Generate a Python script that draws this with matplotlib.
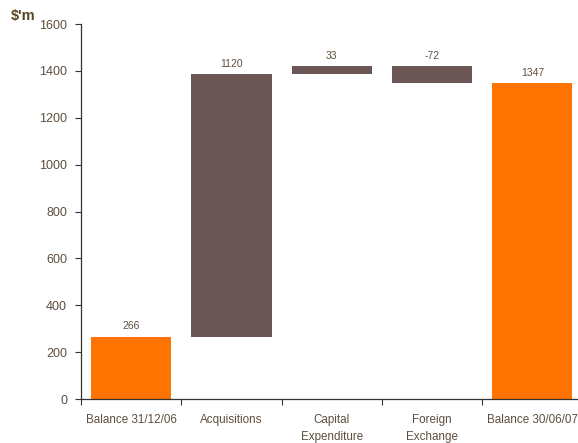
import matplotlib
matplotlib.use("Agg")
import matplotlib.pyplot as plt
import numpy as np

plt.rcParams['font.family'] = ['Liberation Sans', 'DejaVu Sans']

categories = ["Balance 31/12/06", "Acquisitions", "Capital\nExpenditure",
              "Foreign\nExchange", "Balance 30/06/07"]
changes = [266, 1120, 33, -72, 1347]
is_total = [True, False, False, False, True]
value_labels = ["266", "1120", "33", "-72", "1347"]
yticks = [0, 200, 400, 600, 800, 1000, 1200, 1400, 1600]

orange = "#FF7300"
brown = "#6B5856"
text_col = "#5E4E3E"

fig = plt.figure(figsize=(5.78, 4.43), dpi=100)
W, H = 578, 443
ax = fig.add_axes([81 / W, 44 / H, 501.5 / W, 375 / H])

running = 0
bottoms, heights, colors = [], [], []
for v, tot in zip(changes, is_total):
    if tot:
        bottoms.append(0)
        heights.append(v)
        colors.append(orange)
        running = v
    else:
        if v >= 0:
            bottoms.append(running)
            heights.append(v)
        else:
            bottoms.append(running + v)
            heights.append(-v)
        running += v
        colors.append(brown)

x = np.arange(len(categories))
ax.bar(x, heights, bottom=bottoms, width=0.8, color=colors, linewidth=0)

for xi, b, h, lab in zip(x, bottoms, heights, value_labels):
    ax.annotate(lab, (xi, b + h), xytext=(0, 4), textcoords="offset points",
                ha="center", va="bottom", fontsize=7.5, color=text_col)

ax.set_xlim(-0.5, len(categories) - 0.5)
ax.set_ylim(0, 1600)
ax.set_yticks(yticks)
ax.set_yticklabels([str(t) for t in yticks], fontsize=9, color=text_col)

ax.set_xticks(x)
ax.set_xticklabels(categories, fontsize=8.4, color=text_col, linespacing=1.55, va="top")
ax.tick_params(axis="x", which="major", length=0, pad=11)
ax.set_xticks(np.arange(-0.5, len(categories)), minor=True)
ax.tick_params(axis="x", which="minor", length=4, width=0.8, color="#333333", direction="out")
ax.tick_params(axis="y", length=4, width=0.8, color="#333333", direction="out", pad=6)

for s in ["top", "right"]:
    ax.spines[s].set_visible(False)
for s in ["left", "bottom"]:
    ax.spines[s].set_color("#333333")
    ax.spines[s].set_linewidth(0.9)

fig.text(11 / W, 1 - 16 / H, "$'m", fontsize=10.5, fontweight="bold", color="#5C4423",
         ha="left", va="center")

fig.savefig("out.png", dpi=100)
